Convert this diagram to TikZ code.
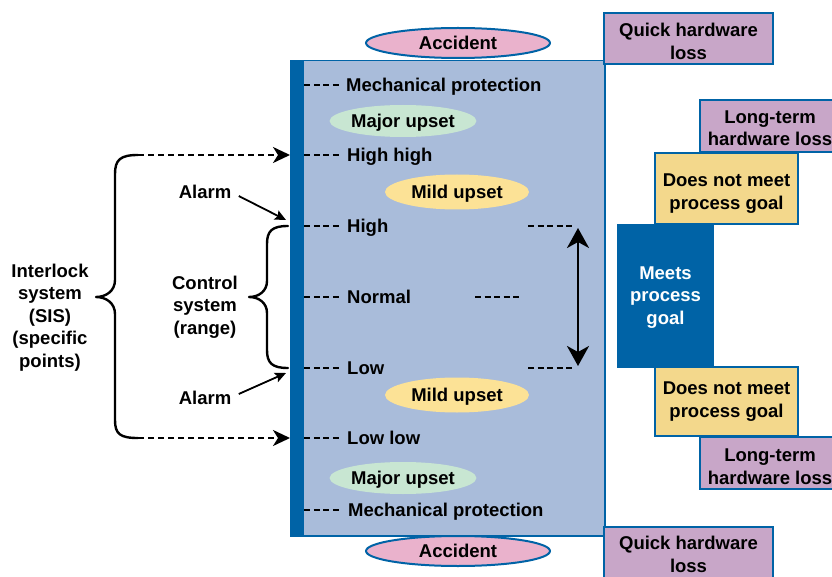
\documentclass[tikz,border=0pt]{standalone}
\usepackage{fontspec}
\setmainfont{Liberation Sans}
\usepackage{tikz}
\usetikzlibrary{shapes.geometric, arrows.meta, positioning, calc}

\definecolor{barblue}{RGB}{0,99,166}
\definecolor{tankblue}{RGB}{169,188,218}
\definecolor{accpink}{RGB}{234,178,204}
\definecolor{losspurple}{RGB}{200,166,200}
\definecolor{goalyellow}{RGB}{243,216,140}
\definecolor{mildyellow}{RGB}{252,226,150}
\definecolor{majorgreen}{RGB}{200,230,210}

\begin{document}
\begin{tikzpicture}[
    x=1pt, y=-1pt,
    every node/.style={font=\fontsize{18.5}{22.5}\selectfont\bfseries, align=center},
    oneline/.style={text height=13.3pt, text depth=0pt},
    lvl/.style={oneline, anchor=west, inner sep=0pt},
    tick/.style={dash pattern=on 6pt off 3.5pt, line width=2.4pt},
    majorE/.style={oneline, ellipse, fill=majorgreen, minimum width=142pt, minimum height=32pt, inner sep=0pt},
    mildE/.style={oneline, ellipse, fill=mildyellow, minimum width=144pt, minimum height=35pt, inner sep=0pt},
    accE/.style={oneline, ellipse, draw=barblue, line width=2pt, fill=accpink, minimum width=184pt, minimum height=30pt, inner sep=0pt},
    lossbox/.style={rectangle, draw=barblue, line width=2pt, fill=losspurple, inner sep=0pt},
    goalbox/.style={rectangle, draw=barblue, line width=2pt, fill=goalyellow, minimum width=143pt, inner sep=0pt},
    brace/.style={line width=2.4pt, line join=round, line cap=round},
    sisarr/.style={-{Stealth[length=17pt, width=16pt, inset=5pt]}, line width=2.4pt, dash pattern=on 6pt off 4pt},
    alarr/.style={-{Stealth[length=11pt, width=10pt, inset=2pt]}, line width=1.8pt},
    rangearr/.style={{Stealth[length=20pt, width=22pt, inset=6pt]}-{Stealth[length=20pt, width=22pt, inset=6pt]}, line width=2.4pt}
]
\clip (0,0) rectangle (832,577);

% Tank with level scale
\node[draw=barblue, line width=1.5pt, fill=tankblue, minimum width=314pt, minimum height=475pt, inner sep=0pt, anchor=north west] (tank) at (290,60) {};
\node[fill=barblue, minimum width=14pt, minimum height=475pt, inner sep=0pt, anchor=north west] (bar) at (290,60) {};

% Levels
\node[lvl] (mechT) at (346,85) {Mechanical protection};
\node[lvl] (hihi) at (347,155) {High high};
\node[lvl] (hi) at (347,226) {High};
\node[lvl] (nrm) at (347,297) {Normal};
\node[lvl] (lo) at (347,368) {Low};
\node[lvl] (lolo) at (347,438) {Low low};
\node[lvl] (mechB) at (348,510) {Mechanical protection};
\foreach \lv in {mechT, hihi, hi, nrm, lo, lolo, mechB}
    \draw[tick] (bar.east |- \lv.west) -- ([xshift=-6pt]\lv.west);

% Upsets
\node[majorE] (majT) at (403,121) {Major upset};
\node[mildE] (mildT) at (457,192) {Mild upset};
\node[mildE] (mildB) at (457,395) {Mild upset};
\node[majorE] (majB) at (403,478) {Major upset};

% Control range
\coordinate (nrmR) at (521,297);
\coordinate (hiR) at (574,226);
\coordinate (loR) at (574,368);
\draw[tick] ($(nrmR)+(-46,0)$) -- (nrmR);
\draw[tick] ($(hiR)+(-46,0)$) -- (hiR);
\draw[tick] ($(loR)+(-46,0)$) -- (loR);
\draw[rangearr] ($(hiR)+(4,2)$) -- ($(loR)+(4,-2)$);

% Process goals
\node[lossbox, minimum width=140pt, minimum height=52pt, label={[yshift=-2pt]center:{Long-term\\hardware loss}}] (ltT) at (770,126) {};
\node[goalbox, minimum height=71pt, label={[yshift=-5pt]center:{Does not meet\\process goal}}] (dnmT) at (726.5,188.5) {};
\node[fill=barblue, minimum width=97pt, minimum height=144pt, inner sep=0pt, label={[yshift=-1.5pt, text=white]center:{Meets\\process\\goal}}] (meets) at (665.5,296) {};
\node[goalbox, minimum height=69pt, label={[yshift=0pt]center:{Does not meet\\process goal}}] (dnmB) at (726.5,401.5) {};
\node[lossbox, minimum width=140pt, minimum height=52pt, label={[yshift=-3.5pt]center:{Long-term\\hardware loss}}] (ltB) at (770,463) {};

% Quick loss and accidents
\node[lossbox, minimum width=169pt, minimum height=51pt, label={[yshift=-3pt]center:{Quick hardware\\loss}}] (qlT) at (688.5,38.5) {};
\node[lossbox, minimum width=169pt, minimum height=53pt, label={[yshift=-1pt]center:{Quick hardware\\loss}}] (qlB) at (688.5,553.5) {};
\node[accE] (accT) at (458,43) {Accident};
\node[accE] (accB) at (458,551) {Accident};

% Control system brace
\node (ctrl) at (205,307) {Control\\system\\(range)};
\coordinate (ctrlTop) at (288,226);
\coordinate (ctrlTip) at (249,297);
\coordinate (ctrlBot) at (288,368);
\draw[brace] (ctrlTop) .. controls (272,226) and (267,231) .. (267,244) -- (267,281)
    .. controls (267,291) and (259,297) .. (ctrlTip)
    .. controls (259,297) and (267,303) .. (267,313) -- (267,350)
    .. controls (267,363) and (272,368) .. (ctrlBot);

% Alarms
\node (almT) at (205,192) {Alarm};
\node (almB) at (205,398) {Alarm};
\coordinate (almTend) at (286,220);
\coordinate (almBend) at (286,373);
\draw[alarr] ([xshift=4pt,yshift=-4pt]almT.east) -- (almTend);
\draw[alarr] ([xshift=4pt,yshift=4pt]almB.east) -- (almBend);

% Interlock brace
\node (sis) at (50,317.5) {Interlock\\system\\(SIS)\\(specific\\points)};
\coordinate (sisTop) at (138,155);
\coordinate (sisTip) at (96,297);
\coordinate (sisBot) at (138,438);
\draw[brace] (sisTop) .. controls (120,155) and (115,160) .. (115,174) -- (115,280)
    .. controls (115,291) and (106,297) .. (sisTip)
    .. controls (106,297) and (115,303) .. (115,314) -- (115,420)
    .. controls (115,434) and (120,438) .. (sisBot);
\draw[sisarr] (sisTop) -- (bar.west |- hihi.west);
\draw[sisarr] (sisBot) -- (bar.west |- lolo.west);

\end{tikzpicture}
\end{document}
